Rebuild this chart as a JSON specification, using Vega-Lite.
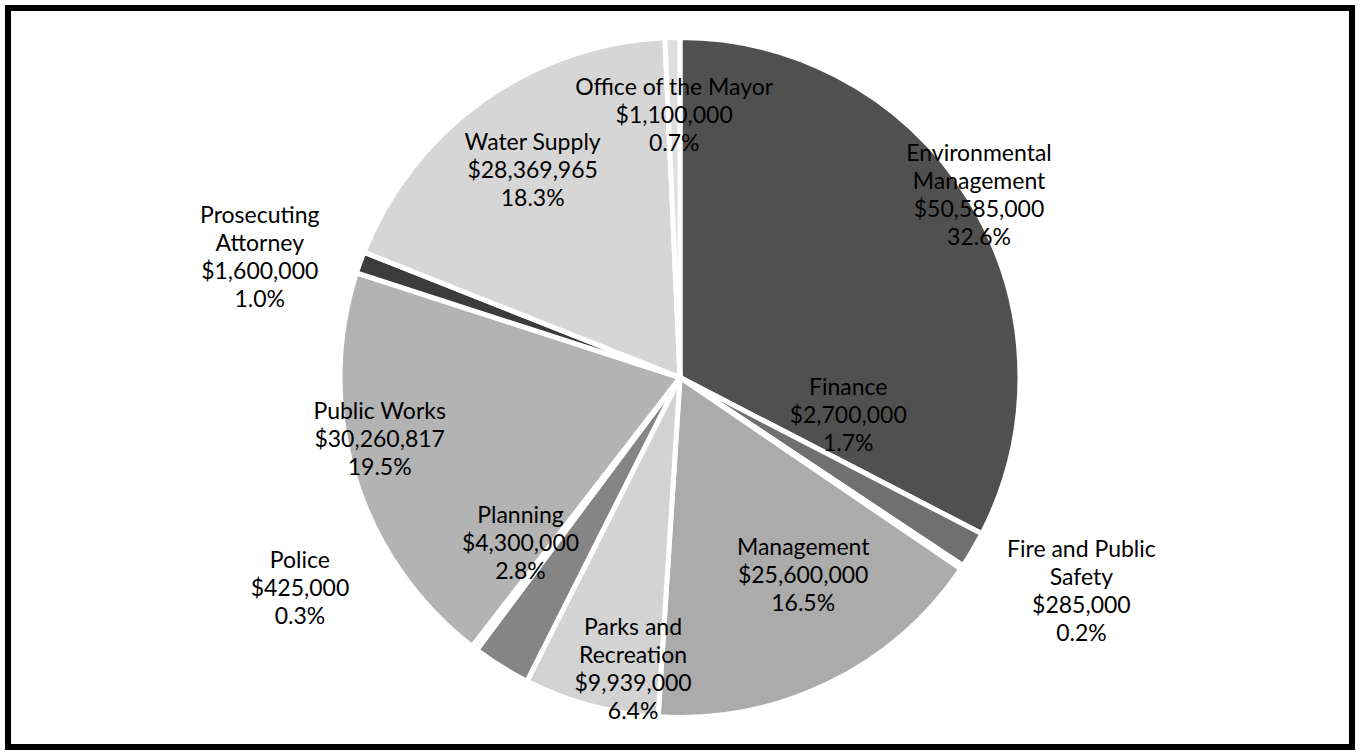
{
  "$schema": "https://vega.github.io/schema/vega-lite/v6.json",
  "width": 1344,
  "height": 739,
  "autosize": {"type": "none"},
  "padding": 8,
  "background": "white",
  "view": {"stroke": "black", "strokeWidth": 6, "fill": "white"},
  "config": {"view": {"stroke": "black", "strokeWidth": 6}},
  "data": {
    "values": [
      {"idx": 1, "dept": "Environmental Management", "amount": 50585000, "label": "Environmental\nManagement\n$50,585,000\n32.6%"},
      {"idx": 2, "dept": "Finance", "amount": 2700000, "label": "Finance\n$2,700,000\n1.7%"},
      {"idx": 3, "dept": "Fire and Public Safety", "amount": 285000, "label": "Fire and Public\nSafety\n$285,000\n0.2%"},
      {"idx": 4, "dept": "Management", "amount": 25600000, "label": "Management\n$25,600,000\n16.5%"},
      {"idx": 5, "dept": "Parks and Recreation", "amount": 9939000, "label": "Parks and\nRecreation\n$9,939,000\n6.4%"},
      {"idx": 6, "dept": "Planning", "amount": 4300000, "label": "Planning\n$4,300,000\n2.8%"},
      {"idx": 7, "dept": "Police", "amount": 425000, "label": "Police\n$425,000\n0.3%"},
      {"idx": 8, "dept": "Public Works", "amount": 30260817, "label": "Public Works\n$30,260,817\n19.5%"},
      {"idx": 9, "dept": "Prosecuting Attorney", "amount": 1600000, "label": "Prosecuting\nAttorney\n$1,600,000\n1.0%"},
      {"idx": 10, "dept": "Water Supply", "amount": 28369965, "label": "Water Supply\n$28,369,965\n18.3%"},
      {"idx": 11, "dept": "Office of the Mayor", "amount": 1100000, "label": "Office of the Mayor\n$1,100,000\n0.7%"}
    ]
  },
  "encoding": {
    "theta": {"field": "amount", "type": "quantitative", "stack": true},
    "order": {"field": "idx", "type": "quantitative"}
  },
  "layer": [
    {
      "mark": {"type": "arc", "outerRadius": 340, "stroke": "white", "strokeWidth": 5},
      "encoding": {
        "color": {
          "field": "dept",
          "type": "nominal",
          "legend": null,
          "scale": {
            "domain": ["Environmental Management", "Finance", "Fire and Public Safety", "Management", "Parks and Recreation", "Planning", "Police", "Public Works", "Prosecuting Attorney", "Water Supply", "Office of the Mayor"],
            "range": ["#505050", "#707070", "#bdbdbd", "#ababab", "#d3d3d3", "#858585", "#e6e6e6", "#b3b3b3", "#3c3c3c", "#d6d6d6", "#dedede"]
          }
        }
      }
    },
    {"mark": {"type": "text", "radius": 350, "dy": -42, "font": "Lato", "fontSize": 23, "lineBreak": "\n", "lineHeight": 28, "baseline": "middle", "align": "center", "color": "black"},
     "encoding": {"text": {"condition": {"test": "datum.dept === 'Environmental Management'", "field": "label"}, "value": ""}}},
    {"mark": {"type": "text", "radius": 172, "dx": 20, "dy": -77, "font": "Lato", "fontSize": 23, "lineBreak": "\n", "lineHeight": 28, "baseline": "middle", "align": "center", "color": "black"},
     "encoding": {"text": {"condition": {"test": "datum.dept === 'Finance'", "field": "label"}, "value": ""}}},
    {"mark": {"type": "text", "radius": 455, "dx": 24, "dy": -82, "font": "Lato", "fontSize": 23, "lineBreak": "\n", "lineHeight": 28, "baseline": "middle", "align": "center", "color": "black"},
     "encoding": {"text": {"condition": {"test": "datum.dept === 'Fire and Public Safety'", "field": "label"}, "value": ""}}},
    {"mark": {"type": "text", "radius": 233, "dx": 21, "dy": -39, "font": "Lato", "fontSize": 23, "lineBreak": "\n", "lineHeight": 28, "baseline": "middle", "align": "center", "color": "black"},
     "encoding": {"text": {"condition": {"test": "datum.dept === 'Management'", "field": "label"}, "value": ""}}},
    {"mark": {"type": "text", "radius": 297, "dx": 31, "dy": -36, "font": "Lato", "fontSize": 23, "lineBreak": "\n", "lineHeight": 28, "baseline": "middle", "align": "center", "color": "black"},
     "encoding": {"text": {"condition": {"test": "datum.dept === 'Parks and Recreation'", "field": "label"}, "value": ""}}},
    {"mark": {"type": "text", "radius": 231, "dx": -38, "dy": -58, "font": "Lato", "fontSize": 23, "lineBreak": "\n", "lineHeight": 28, "baseline": "middle", "align": "center", "color": "black"},
     "encoding": {"text": {"condition": {"test": "datum.dept === 'Planning'", "field": "label"}, "value": ""}}},
    {"mark": {"type": "text", "radius": 435, "dx": -117, "dy": -163, "font": "Lato", "fontSize": 23, "lineBreak": "\n", "lineHeight": 28, "baseline": "middle", "align": "center", "color": "black"},
     "encoding": {"text": {"condition": {"test": "datum.dept === 'Police'", "field": "label"}, "value": ""}}},
    {"mark": {"type": "text", "radius": 306, "dx": -8, "dy": -56, "font": "Lato", "fontSize": 23, "lineBreak": "\n", "lineHeight": 28, "baseline": "middle", "align": "center", "color": "black"},
     "encoding": {"text": {"condition": {"test": "datum.dept === 'Public Works'", "field": "label"}, "value": ""}}},
    {"mark": {"type": "text", "radius": 437, "dx": -9, "dy": -14, "font": "Lato", "fontSize": 23, "lineBreak": "\n", "lineHeight": 28, "baseline": "middle", "align": "center", "color": "black"},
     "encoding": {"text": {"condition": {"test": "datum.dept === 'Prosecuting Attorney'", "field": "label"}, "value": ""}}},
    {"mark": {"type": "text", "radius": 254, "dy": -28, "font": "Lato", "fontSize": 23, "lineBreak": "\n", "lineHeight": 28, "baseline": "middle", "align": "center", "color": "black"},
     "encoding": {"text": {"condition": {"test": "datum.dept === 'Water Supply'", "field": "label"}, "value": ""}}},
    {"mark": {"type": "text", "radius": 262, "dy": -28, "font": "Lato", "fontSize": 23, "lineBreak": "\n", "lineHeight": 28, "baseline": "middle", "align": "center", "color": "black"},
     "encoding": {"text": {"condition": {"test": "datum.dept === 'Office of the Mayor'", "field": "label"}, "value": ""}}}
  ]
}
